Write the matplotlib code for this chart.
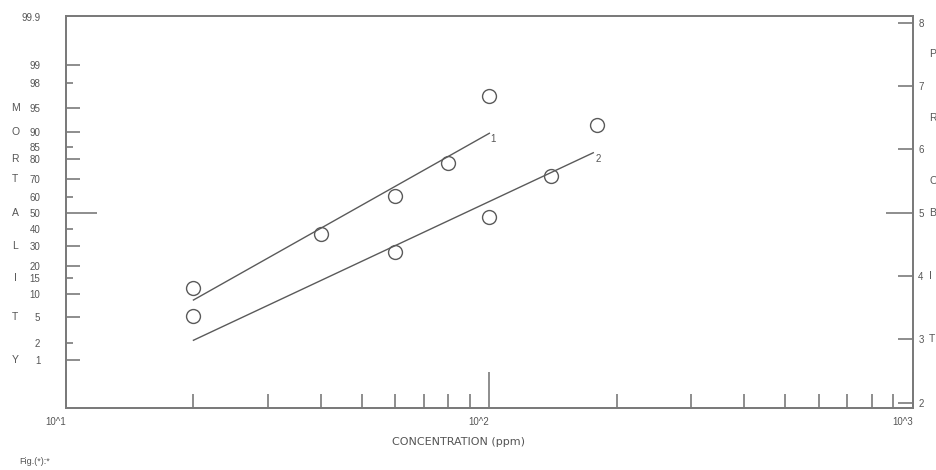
import matplotlib
matplotlib.use("Agg")
import matplotlib.pyplot as plt
from matplotlib.ticker import FixedLocator, NullFormatter
from statistics import NormalDist

# values (mortality in %, concentration in ppm)
conc1 = [20, 40, 60, 80, 100]
mort1 = [11.7, 36.9, 60.5, 78.5, 96.7]
conc2 = [20, 60, 100, 140, 180]
mort2 = [5.1, 26.7, 47.4, 71.9, 91.7]

# fitted probit lines (end points)
fit1_x = [20, 100]
fit1_m = [8.4, 89.5]
fit2_x = [20, 176]
fit2_m = [2.2, 82.8]

pct_ticks = [0.1, 1, 2, 5, 10, 15, 20, 30, 40, 50, 60, 70, 80, 85, 90, 95, 98, 99, 99.9]
pct_short = [2, 15, 40, 60, 85, 98]
probit_ticks = [2, 3, 4, 5, 6, 7, 8]
x_major = [10, 100, 1000]
x_labels = ["10^1", "10^2", "10^3"]

left_word = [("M", 95), ("O", 90), ("R", 80), ("T", 70), ("A", 50),
             ("L", 30), ("I", 15), ("T", 5), ("Y", 1)]
right_word = [("P", 7.5), ("R", 6.5), ("O", 5.5), ("B", 5), ("I", 4), ("T", 3)]


def probit(p):
    return NormalDist().inv_cdf(p / 100.0) + 5


GRAY = "#7a7a7a"
TXT = "#555555"
plt.rcParams['font.family'] = ['Liberation Sans', 'DejaVu Sans']

fig = plt.figure(figsize=(9.36, 4.70), dpi=100)
ax = fig.add_axes([66 / 936, 61.7 / 470, 846.7 / 936, 392.3 / 470])

ax.set_xscale("log")
ax.set_xlim(10, 1000)
ax.set_ylim(1.912, 8.105)

# data points and fitted lines
ax.plot(conc1, [probit(m) for m in mort1], "o", ms=10, mfc="none", mec="#5a5a5a", mew=1.0)
ax.plot(conc2, [probit(m) for m in mort2], "o", ms=10, mfc="none", mec="#5a5a5a", mew=1.0)
ax.plot(fit1_x, [probit(m) for m in fit1_m], color="#5a5a5a", lw=1.0)
ax.plot(fit2_x, [probit(m) for m in fit2_m], color="#5a5a5a", lw=1.0)
ax.annotate("1", (fit1_x[-1], probit(fit1_m[-1])), xytext=(4, -6),
            textcoords="offset pixels", fontsize=7, color=TXT, ha="center", va="center")
ax.annotate("2", (fit2_x[-1], probit(fit2_m[-1])), xytext=(5, -6),
            textcoords="offset pixels", fontsize=7, color=TXT, ha="center", va="center")

for s in ax.spines.values():
    s.set_color(GRAY)
    s.set_linewidth(1.3)

# x axis
ax.xaxis.set_major_locator(FixedLocator(x_major))
ax.set_xticklabels(x_labels)
ax.xaxis.set_minor_formatter(NullFormatter())
ax.tick_params(axis="x", which="major", direction="in", length=26, width=1.2,
               color=GRAY, labelsize=7, labelcolor=TXT, pad=6)
ax.tick_params(axis="x", which="minor", direction="in", length=10, width=1.2, color=GRAY)
for lab in ax.get_xticklabels():
    lab.set_ha("right")

# left axis: mortality %
ax.yaxis.set_major_locator(FixedLocator([probit(p) for p in pct_ticks]))
ax.set_yticklabels([("%g" % p) for p in pct_ticks])
ax.yaxis.set_minor_locator(FixedLocator([]))
ax.tick_params(axis="y", which="major", direction="in", length=10, width=1.2,
               color=GRAY, labelsize=7, labelcolor=TXT, pad=18.5)
for tick, p in zip(ax.yaxis.get_major_ticks(), pct_ticks):
    if p in (0.1, 99.9):
        tick.tick1line.set_markersize(0)
    elif p == 50:
        tick.tick1line.set_markersize(22.5)
    elif p in pct_short:
        tick.tick1line.set_markersize(5)

for ch, p in left_word:
    ax.text(-0.060, probit(p), ch, transform=ax.get_yaxis_transform(),
            ha="center", va="center", fontsize=7.5, color=TXT, clip_on=False)

# right axis: probits
ax2 = ax.twinx()
ax2.set_ylim(ax.get_ylim())
ax2.set_yticks(probit_ticks)
ax2.tick_params(axis="y", direction="in", length=10.5, width=1.2, color=GRAY,
                labelsize=7, labelcolor=TXT, pad=4)
for s in ax2.spines.values():
    s.set_color(GRAY)
    s.set_linewidth(1.3)
for tick, v in zip(ax2.yaxis.get_major_ticks(), probit_ticks):
    if v == 5:
        tick.tick2line.set_markersize(19.5)

for ch, v in right_word:
    ax2.text(1.0195, v, ch, transform=ax2.get_yaxis_transform(),
             ha="left", va="center", fontsize=7.5, color=TXT, clip_on=False)

fig.text(458 / 936, 1 - 442 / 470, "CONCENTRATION (ppm)", ha="center", va="center",
         fontsize=8, color=TXT, family=["DejaVu Sans"])
fig.text(19 / 936, 1 - 462 / 470, "Fig.(*):*", ha="left", va="center",
         fontsize=6.5, color=TXT)

fig.savefig("out.png", dpi=100)
